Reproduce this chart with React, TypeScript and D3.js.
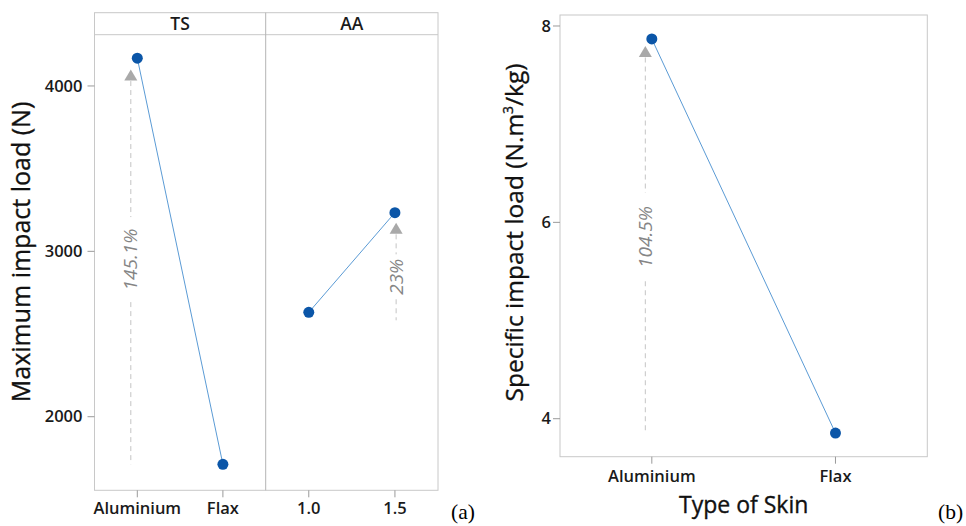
import React from "react";
import * as d3 from "d3";

// ---- data ----
const tsCategories = ["Aluminium", "Flax"];
const tsValues = [4168, 1712];
const aaCategories = ["1.0", "1.5"];
const aaValues = [2631, 3234];
const leftTicks = [2000, 3000, 4000];
const leftArrows = [
  { panel: "TS", from: 1712, to: 4066, label: "145.1%", gapLo: 2693, gapHi: 3207 },
  { panel: "AA", from: 2583, to: 3139, label: "23%", gapLo: 2710, gapHi: 2982 },
];
const skinCategories = ["Aluminium", "Flax"];
const skinValues = [7.868, 3.854];
const rightTicks = [4, 6, 8];
const rightArrow = { from: 3.86, to: 7.74, label: "104.5%", gapLo: 5.4, gapHi: 6.3 };

const FONT = "'Open Sans', 'Noto Sans', sans-serif";
const FRAME = "#c8c8c8";
const TICK = "#9a9a9a";
const BLUE = "#0b56a8";
const LINE = "#5b9bd5";
const TRI = "#a9a9a9";
const DASH = "#c4c4c4";
const ANN = "#858585";

function Triangle({ x, y }: { x: number; y: number }) {
  const w = 6.5, h = 11;
  return <path d={`M${x - w},${y + h / 2} L${x + w},${y + h / 2} L${x},${y - h / 2} Z`} fill={TRI} />;
}

function Arrow({ x, yScale, a }: { x: number; yScale: any; a: any }) {
  const yTop = yScale(a.to) + 6;
  const yBot = yScale(a.from);
  const gTop = yScale(a.gapHi);
  const gBot = yScale(a.gapLo);
  const mid = (gTop + gBot) / 2;
  return (
    <g>
      <line x1={x} x2={x} y1={yTop} y2={gTop} stroke={DASH} strokeDasharray="5,4" />
      <line x1={x} x2={x} y1={gBot} y2={yBot} stroke={DASH} strokeDasharray="5,4" />
      <text
        transform={`translate(${x + 6.5},${mid}) rotate(-90)`}
        textAnchor="middle"
        fontFamily={FONT}
        fontStyle="italic"
        fontSize={19}
        fill={ANN}
      >
        {a.label}
      </text>
      <Triangle x={x} y={yScale(a.to)} />
    </g>
  );
}

export default function App() {
  // left chart geometry
  const L = { left: 94.5, right: 438, top: 12.7, strip: 34.7, bottom: 490.3, div: 265.7 };
  const yL = d3.scaleLinear().domain([1555, 4310]).range([L.bottom, L.strip]);
  const xTS = d3.scalePoint<string>().domain(tsCategories).range([L.left, L.div]).padding(0.5);
  const xAA = d3.scalePoint<string>().domain(aaCategories).range([L.div, L.right]).padding(0.5);

  // right chart geometry
  const R = { left: 560, right: 927.3, top: 15, bottom: 456.7 };
  const yR = d3.scaleLinear().domain([3.613, 8.112]).range([R.bottom, R.top]);
  const xR = d3.scalePoint<string>().domain(skinCategories).range([R.left, R.right]).padding(0.5);

  const lineGen = d3.line<[number, number]>().x((d) => d[0]).y((d) => d[1]);

  const tsPts: [number, number][] = tsCategories.map((c, i) => [xTS(c)!, yL(tsValues[i])]);
  const aaPts: [number, number][] = aaCategories.map((c, i) => [xAA(c)!, yL(aaValues[i])]);
  const rPts: [number, number][] = skinCategories.map((c, i) => [xR(c)!, yR(skinValues[i])]);

  const tickLabel = { fontFamily: FONT, fontSize: 16.5, fontWeight: 600, fill: "#1a1a1a" } as const;
  const titleStyle = { fontFamily: FONT, fill: "#111", stroke: "#111", strokeWidth: 0.35 } as const;

  return (
    <svg width={966} height={526} style={{ position: "absolute", left: 0, top: 0, background: "#fff" }}>
      {/* ---------- LEFT CHART ---------- */}
      <rect x={L.left} y={L.top} width={L.right - L.left} height={L.bottom - L.top} fill="none" stroke={FRAME} />
      <line x1={L.left} x2={L.right} y1={L.strip} y2={L.strip} stroke={FRAME} />
      <line x1={L.div} x2={L.div} y1={L.top} y2={L.bottom} stroke="#b4b4b4" />
      <text x={(L.left + L.div) / 2} y={30} textAnchor="middle" {...tickLabel} fontSize={17.5}>TS</text>
      <text x={(L.div + L.right) / 2} y={30} textAnchor="middle" {...tickLabel} fontSize={17.5}>AA</text>

      {leftTicks.map((t) => (
        <g key={t}>
          <line x1={L.left - 7} x2={L.left} y1={yL(t)} y2={yL(t)} stroke={TICK} />
          <text x={L.left - 12} y={yL(t)} dy="0.35em" textAnchor="end" {...tickLabel}>{t}</text>
        </g>
      ))}
      {tsCategories.map((c) => (
        <g key={c}>
          <line x1={xTS(c)} x2={xTS(c)} y1={L.bottom} y2={L.bottom + 7} stroke={TICK} />
          <text x={xTS(c)} y={514} textAnchor="middle" {...tickLabel}>{c}</text>
        </g>
      ))}
      {aaCategories.map((c) => (
        <g key={c}>
          <line x1={xAA(c)} x2={xAA(c)} y1={L.bottom} y2={L.bottom + 7} stroke={TICK} />
          <text x={xAA(c)} y={514} textAnchor="middle" {...tickLabel}>{c}</text>
        </g>
      ))}
      <text transform={`translate(30,252) rotate(-90)`} textAnchor="middle" fontSize={25} {...titleStyle}>
        Maximum impact load (N)
      </text>

      <Arrow x={xTS(tsCategories[0])! - 6.5} yScale={yL} a={leftArrows[0]} />
      <Arrow x={xAA(aaCategories[1])! + 1.2} yScale={yL} a={leftArrows[1]} />

      <path d={lineGen(tsPts)!} fill="none" stroke={LINE} strokeWidth={1} />
      <path d={lineGen(aaPts)!} fill="none" stroke={LINE} strokeWidth={1} />
      {[...tsPts, ...aaPts].map((p, i) => (
        <circle key={i} cx={p[0]} cy={p[1]} r={5.5} fill={BLUE} />
      ))}
      <text x={451} y={519} fontFamily="'Liberation Serif', 'Times New Roman', serif" fontSize={21.5} fill="#000">(a)</text>

      {/* ---------- RIGHT CHART ---------- */}
      <rect x={R.left} y={R.top} width={R.right - R.left} height={R.bottom - R.top} fill="none" stroke={FRAME} />
      {rightTicks.map((t) => (
        <g key={t}>
          <line x1={R.left - 7} x2={R.left} y1={yR(t)} y2={yR(t)} stroke={TICK} />
          <text x={R.left - 9} y={yR(t)} dy="0.35em" textAnchor="end" {...tickLabel}>{t}</text>
        </g>
      ))}
      {skinCategories.map((c) => (
        <g key={c}>
          <line x1={xR(c)} x2={xR(c)} y1={R.bottom} y2={R.bottom + 7} stroke={TICK} />
          <text x={xR(c)} y={482} textAnchor="middle" {...tickLabel}>{c}</text>
        </g>
      ))}
      <text x={(R.left + R.right) / 2} y={513} textAnchor="middle" fontSize={23} {...titleStyle}>
        Type of Skin
      </text>
      <text transform={`translate(523,232.5) rotate(-90)`} textAnchor="middle" fontSize={24.5} {...titleStyle}>
        Specific impact load (N.m<tspan fontSize={14} dy={-10}>3</tspan><tspan dy={10}>/kg)</tspan>
      </text>

      <Arrow x={xR(skinCategories[0])! - 6.5} yScale={yR} a={rightArrow} />
      <path d={lineGen(rPts)!} fill="none" stroke={LINE} strokeWidth={1} />
      {rPts.map((p, i) => (
        <circle key={i} cx={p[0]} cy={p[1]} r={5.5} fill={BLUE} />
      ))}
      <text x={938} y={519} fontFamily="'Liberation Serif', 'Times New Roman', serif" fontSize={21.5} fill="#000">(b)</text>
    </svg>
  );
}
